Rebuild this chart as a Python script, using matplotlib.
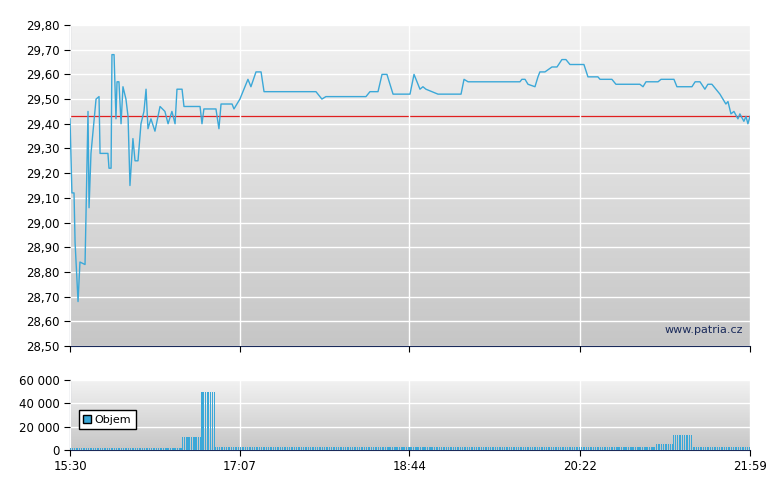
import matplotlib
matplotlib.use("Agg")
import matplotlib.pyplot as plt
import numpy as np
from matplotlib.patches import Patch

# price: minutes after 15:30
t = [0,1.1,2.3,2.9,4.6,5.7,8.6,10.3,10.9,12,14.9,16.6,17.2,21.7,22.3,23.5,24,25.2,26.3,26.9,28,29.2,30.3,32,33.2,34.3,36,37.2,38.9,40.6,42.3,43.5,44.6,46.3,48.6,51.5,54.3,56.1,58.3,60.1,61.2,64.1,65.2,74.4,75.5,76.6,83.5,85.2,86.4,92.7,93.8,97.2,101.8,103.5,106.4,109.3,111,140.7,144.1,146.4,169.3,171.6,176.2,178.5,181.3,184.8,194.5,196.8,200.2,201.9,203.6,210.5,223.7,225.4,227.7,257.4,258.5,260.3,262,266,267.7,268.8,271.7,275.7,278.6,281.4,283.7,286,294,296.3,302,303.2,310,312.3,326,327.8,329.5,336.4,338.1,345.5,347.2,355.8,357.6,360.4,363.2,364.9,367.2,371.8,375.2,376.4,378.1,379.8,382.1,383.2,385.5,386.7,387.8,389]
price = [29.42,29.12,29.12,28.92,28.68,28.84,28.83,29.45,29.06,29.28,29.50,29.51,29.28,29.28,29.22,29.22,29.68,29.68,29.42,29.57,29.57,29.40,29.55,29.50,29.43,29.15,29.34,29.25,29.25,29.40,29.45,29.54,29.38,29.42,29.37,29.47,29.45,29.40,29.45,29.40,29.54,29.54,29.47,29.47,29.40,29.46,29.46,29.38,29.48,29.48,29.46,29.50,29.58,29.55,29.61,29.61,29.53,29.53,29.50,29.51,29.51,29.53,29.53,29.60,29.60,29.52,29.52,29.60,29.54,29.55,29.54,29.52,29.52,29.58,29.57,29.57,29.58,29.58,29.56,29.55,29.59,29.61,29.61,29.63,29.63,29.66,29.66,29.64,29.64,29.59,29.59,29.58,29.58,29.56,29.56,29.55,29.57,29.57,29.58,29.58,29.55,29.55,29.57,29.57,29.54,29.56,29.56,29.52,29.48,29.49,29.44,29.45,29.42,29.44,29.41,29.43,29.40,29.43]
ref_price = 29.43

vol_start = [0, 64, 75, 83, 220, 335, 345, 356]
vol_end = [64, 75, 83, 220, 335, 345, 356, 389]
vol_level = [1500, 11000, 50000, 2500, 3000, 5000, 13000, 2500]

xticks = [0, 97, 194, 292, 389]
xlabels = ["15:30", "17:07", "18:44", "20:22", "21:59"]

fig = plt.figure(figsize=(7.8, 4.9), dpi=100)
ax = fig.add_axes([70/780, 1-346/490, 680/780, 321/490])
axv = fig.add_axes([70/780, 1-450/490, 680/780, 70/490])

navy = "#1a2a5a"
grad = np.linspace(0, 1, 256).reshape(-1, 1)
from matplotlib.colors import LinearSegmentedColormap
cm = LinearSegmentedColormap.from_list("g", ["#c6c6c6", "#f2f2f2"])
for a, (lo, hi) in ((ax, (28.5, 29.8)), (axv, (0, 60000))):
    a.imshow(grad, aspect="auto", cmap=cm, origin="lower",
             extent=[0, 389, lo, hi], zorder=0)
    a.set_xlim(0, 389); a.set_ylim(lo, hi)
    for s in ("top", "right"):
        a.spines[s].set_visible(False)
    for s in ("left", "bottom"):
        a.spines[s].set_color(navy)
    a.grid(True, color="white", lw=1, zorder=1)
    a.set_axisbelow(False)
    a.tick_params(colors="black", labelsize=8.5, length=4)
    a.set_xticks(xticks)

ax.plot(t, price, color="#3ba8d8", lw=1, zorder=3)
ax.axhline(ref_price, color="#e02020", lw=0.9, zorder=2)
yt = np.round(np.arange(28.5, 29.81, 0.1), 2)
ax.set_yticks(yt)
ax.set_yticklabels([f"{v:.2f}".replace(".", ",") for v in yt])
ax.set_xticklabels([])
ax.text(0.99, 0.05, "www.patria.cz", transform=ax.transAxes, ha="right",
        va="center", fontsize=8, color="#1a2a5a", zorder=4)

bt, bv = [], []
for s, e, v in zip(vol_start, vol_end, vol_level):
    for m in range(s, e):
        bt.append(m + 0.5); bv.append(v)
axv.bar(bt, bv, width=0.6, color="#3ba8d8", zorder=3)
axv.set_yticks([0, 20000, 40000, 60000])
axv.set_yticklabels(["0", "20 000", "40 000", "60 000"])
axv.set_xticklabels(xlabels)
leg = axv.legend(handles=[Patch(facecolor="#3ba8d8", edgecolor="black", label="Objem")],
                 loc="lower left", bbox_to_anchor=(0.005, 0.22), fontsize=8,
                 fancybox=False, framealpha=1, edgecolor="black",
                 handlelength=0.7, handleheight=0.7, handletextpad=0.3)
fig.savefig("out.png", dpi=100, facecolor="white")
